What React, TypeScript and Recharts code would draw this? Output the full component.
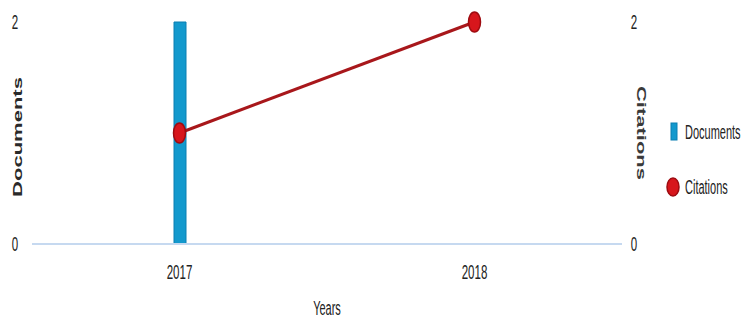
import React from 'react';
import { ComposedChart, Bar, Line, XAxis, YAxis, Legend, Label } from 'recharts';

const years = ['2017', '2018'];
const documents = [2, 0];
const citations = [1, 2];
const yTicks = [0, 2];

const data = years.map((y, i) => ({ year: y, documents: documents[i], citations: citations[i] }));

const FONT = '"Liberation Sans", Arial, sans-serif';
const SX = 0.55;
const BAR_COLOR = '#1399CD';
const LINE_COLOR = '#A8171B';
const DOT_COLOR = '#D7161C';

const SqTick = (props: any) => {
  const { x, y, payload } = props;
  return (
    <text
      transform={`translate(${x},${y}) scale(${SX},1)`}
      textAnchor="middle"
      dy="0.355em"
      fontFamily={FONT}
      fontSize={21}
      fill="#222"
    >
      {payload.value}
    </text>
  );
};

const XLabel = (props: any) => {
  const { viewBox } = props;
  const cx = viewBox.x + viewBox.width / 2;
  return (
    <text
      transform={`translate(${cx},308) scale(${SX},1)`}
      textAnchor="middle"
      dy="0.355em"
      fontFamily={FONT}
      fontSize={20}
      fill="#222"
    >
      Years
    </text>
  );
};

const LeftLabel = (props: any) => {
  const { viewBox } = props;
  const cy = viewBox.y + viewBox.height / 2 + 4;
  return (
    <text
      transform={`translate(18,${cy}) scale(${SX},1) rotate(-90)`}
      textAnchor="middle"
      dy="0.355em"
      fontFamily={FONT}
      fontSize={22}
      fontWeight="bold"
      fill="#2a2a2a"
    >
      Documents
    </text>
  );
};

const RightLabel = (props: any) => {
  const { viewBox } = props;
  const cy = viewBox.y + viewBox.height / 2;
  return (
    <text
      transform={`translate(641,${cy}) scale(${SX},1) rotate(90)`}
      textAnchor="middle"
      dy="0.355em"
      fontFamily={FONT}
      fontSize={22}
      fontWeight="bold"
      fill="#3a3a3a"
    >
      Citations
    </text>
  );
};

const EllipseDot = (props: any) => {
  const { cx, cy } = props;
  if (cx == null || cy == null) return null;
  return <ellipse cx={cx} cy={cy} rx={6} ry={10} fill={DOT_COLOR} stroke="#9E0B10" strokeWidth={1.5} />;
};

const LegendContent = () => (
  <svg width={81} height={100} style={{ display: 'block', overflow: 'visible' }}>
    <rect x={11} y={13} width={6} height={17} fill={BAR_COLOR} stroke="#0B7FB2" strokeWidth={1} />
    <text
      transform={`translate(25,22) scale(${SX},1)`}
      dy="0.355em"
      fontFamily={FONT}
      fontSize={20}
      fill="#222"
    >
      Documents
    </text>
    <ellipse cx={13} cy={77} rx={6} ry={9} fill={DOT_COLOR} stroke="#9E0B10" strokeWidth={1.5} />
    <text
      transform={`translate(25,77) scale(${SX},1)`}
      dy="0.355em"
      fontFamily={FONT}
      fontSize={20}
      fill="#222"
    >
      Citations
    </text>
  </svg>
);

export default function App() {
  return (
    <div style={{ position: 'absolute', left: 0, top: 0, width: 741, height: 320, background: '#fff' }}>
      <ComposedChart
        width={741}
        height={320}
        data={data}
        margin={{ top: 22, right: 79, bottom: 0, left: 0 }}
      >
        <XAxis
          dataKey="year"
          height={76}
          tickSize={0}
          tickMargin={28}
          tick={<SqTick />}
          axisLine={{ stroke: '#C6D9F0', strokeWidth: 2 }}
          tickLine={false}
        >
          <Label content={<XLabel />} />
        </XAxis>
        <YAxis
          yAxisId="left"
          orientation="left"
          width={32}
          domain={[0, 2]}
          ticks={yTicks}
          tickSize={0}
          tickMargin={17}
          tick={<SqTick />}
          axisLine={false}
          tickLine={false}
        >
          <Label content={<LeftLabel />} />
        </YAxis>
        <YAxis
          yAxisId="right"
          orientation="right"
          width={40}
          domain={[0, 2]}
          ticks={yTicks}
          tickSize={0}
          tickMargin={12}
          tick={<SqTick />}
          axisLine={false}
          tickLine={false}
        >
          <Label content={<RightLabel />} />
        </YAxis>
        <Bar
          yAxisId="left"
          dataKey="documents"
          name="Documents"
          barSize={12}
          fill={BAR_COLOR}
          stroke="#0B7FB2"
          strokeWidth={1}
          isAnimationActive={false}
        />
        <Line
          yAxisId="right"
          dataKey="citations"
          name="Citations"
          type="linear"
          stroke={LINE_COLOR}
          strokeWidth={3}
          dot={<EllipseDot />}
          activeDot={false}
          isAnimationActive={false}
        />
        <Legend
          layout="horizontal"
          verticalAlign="middle"
          align="center"
          content={<LegendContent />}
          wrapperStyle={{ left: 660, top: 110, width: 81, height: 100 }}
        />
      </ComposedChart>
    </div>
  );
}
